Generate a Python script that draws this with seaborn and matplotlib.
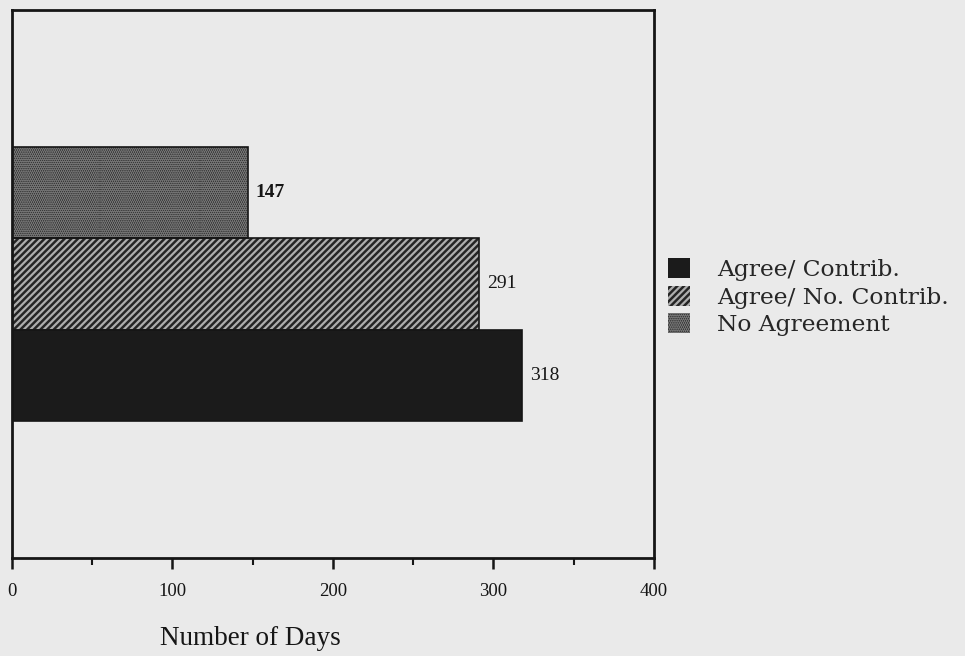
import matplotlib
matplotlib.use("Agg")
import matplotlib.pyplot as plt
from matplotlib.patches import Patch, Rectangle
import seaborn as sns
import pandas as pd

# Data
groups = ["No Agreement", "Agree/ No. Contrib.", "Agree/ Contrib."]
days = [147, 291, 318]
legend_order = ["Agree/ Contrib.", "Agree/ No. Contrib.", "No Agreement"]
x_ticks = [0, 100, 200, 300, 400]

df = pd.DataFrame({"case": ["all"] * 3, "group": groups, "days": days})

bg = "#eaeaea"
ink = "#161616"
serif = ["Liberation Serif", "DejaVu Serif"]

sns.set_theme(style="white")
plt.rcParams["font.family"] = serif
plt.rcParams["hatch.linewidth"] = 1.6

styles = {
    "No Agreement": dict(face="#303030", hatch="........", hcol="#747474"),
    "Agree/ No. Contrib.": dict(face="#242424", hatch="/////", hcol="#adadad"),
    "Agree/ Contrib.": dict(face="#1b1b1b", hatch="", hcol="#1b1b1b"),
}

fig = plt.figure(figsize=(9.65, 6.56), dpi=100, facecolor=bg)
ax = fig.add_axes([0.0124, 0.1494, 0.6653, 0.8354], facecolor=bg)

sns.barplot(data=df, y="case", x="days", hue="group", hue_order=groups,
            orient="h", width=0.8, ax=ax, legend=False, errorbar=None)

for patch, g in zip(ax.patches, groups):
    st = styles[g]
    patch.set_facecolor(st["face"])
    patch.set_hatch(st["hatch"])
    patch.set_edgecolor(st["hcol"])
    patch.set_linewidth(0)
    x0, y0 = patch.get_x(), patch.get_y()
    w, h = patch.get_width(), patch.get_height()
    ax.add_patch(Rectangle((x0, y0), w, h, fill=False, edgecolor=ink,
                           linewidth=1.2, zorder=patch.get_zorder() + 0.1))
    ax.text(w + 5, y0 + h / 2, f"{w:.0f}", va="center", ha="left",
            fontsize=14, color=ink,
            fontweight="bold" if g == "No Agreement" else "normal")

ax.set_xlim(0, 400)
ax.set_ylim(0.8, -0.8)
ax.set_xticks(x_ticks)
ax.set_xticks([50, 150, 250, 350], minor=True)
ax.set_xticklabels([str(t) for t in x_ticks], fontsize=13.5, color=ink)
ax.tick_params(axis="x", which="major", direction="out", length=8, width=1.8,
               color=ink, pad=10, bottom=True)
ax.tick_params(axis="x", which="minor", direction="out", length=5, width=1.5,
               color=ink, bottom=True)
ax.set_yticks([])
ax.set_ylabel("")
ax.set_xlabel("")
ax.text(0.372, -0.146, "Number of Days", transform=ax.transAxes,
        ha="center", va="center", fontsize=19.5, color=ink)

for s in ax.spines.values():
    s.set_visible(True)
    s.set_color(ink)
    s.set_linewidth(2)

handles = []
for g in legend_order:
    st = styles[g]
    handles.append(Patch(facecolor=st["face"], hatch=st["hatch"],
                         edgecolor=st["hcol"], linewidth=0, label=g))
fig.legend(handles=handles, loc="upper left", bbox_to_anchor=(0.692, 0.607),
           frameon=False, prop={"family": "DejaVu Serif", "size": 16.8},
           handlelength=0.95, handleheight=0.95, handletextpad=1.15,
           labelspacing=0.2, borderpad=0, borderaxespad=0)

fig.savefig("out.png", dpi=100, facecolor=bg)
